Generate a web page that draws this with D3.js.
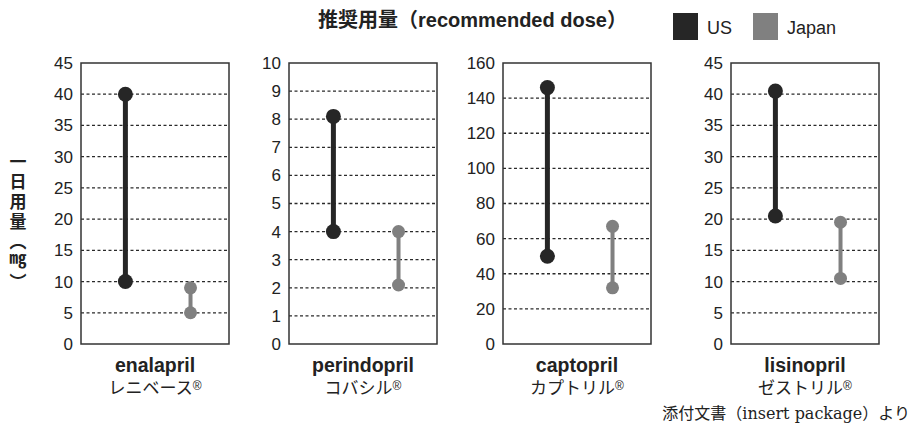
<!DOCTYPE html>
<html>
<head>
<meta charset="utf-8">
<script src="https://cdn.jsdelivr.net/npm/d3@7"></script>
<style>
  body { margin: 0; background: #fff; }
  svg { display: block; }
</style>
</head>
<body>
<div id="chart"></div>
<script>
// data
const drugs = ["enalapril", "perindopril", "captopril", "lisinopril"];
const brands = ["レニベース", "コバシル", "カプトリル", "ゼストリル"];
const series = ["US", "Japan"];
const yMax = [45, 10, 160, 45];
const tickStep = [5, 1, 20, 5];
const usLow = [10, 4, 50, 20.5];
const usHigh = [40, 8.1, 146, 40.5];
const jpLow = [5, 2.1, 32, 10.5];
const jpHigh = [9, 4, 67, 19.5];

// layout
const width = 916, height = 435;
const panelLeft = [81, 289, 503, 731];
const panelW = 148;
const plotTop = 63, plotBottom = 344;
const colors = { US: "#262626", Japan: "#808080" };
const sansFont = "'Liberation Sans', Arial, sans-serif";
const jpFont = "'Noto Sans CJK JP', sans-serif";

const svg = d3.select('#chart')
  .append('svg')
  .attr('width', width)
  .attr('height', height);

// title
svg.append('text')
  .attr('x', 318).attr('y', 27)
  .attr('font-family', sansFont + ", 'Noto Sans CJK JP'")
  .attr('font-weight', 'bold')
  .attr('font-size', 20)
  .attr('fill', '#222')
  .text('推奨用量（recommended dose）');

// legend
const legendX = [673, 753];
series.forEach((s, i) => {
  svg.append('rect')
    .attr('x', legendX[i]).attr('y', 13)
    .attr('width', 25).attr('height', 27)
    .attr('fill', colors[s]);
  svg.append('text')
    .attr('x', legendX[i] + 34).attr('y', 34)
    .attr('font-family', sansFont)
    .attr('font-size', 18)
    .attr('fill', '#222')
    .text(s);
});

// y-axis label, vertical
svg.append('text')
  .attr('x', 18).attr('y', 153)
  .attr('font-family', jpFont)
  .attr('font-weight', 'bold')
  .attr('font-size', 17)
  .attr('fill', '#222')
  .style('writing-mode', 'vertical-rl')
  .style('letter-spacing', '3px')
  .text('一日用量（㎎）');

drugs.forEach((drug, i) => {
  const g = svg.append('g')
    .attr('transform', `translate(${panelLeft[i]},0)`);

  const y = d3.scaleLinear()
    .domain([0, yMax[i]])
    .range([plotBottom, plotTop]);

  const x = d3.scalePoint()
    .domain(series)
    .range([panelW * 0.3, panelW * 0.74]);

  const ticks = d3.range(0, yMax[i] + tickStep[i] / 2, tickStep[i]);

  // dashed grid
  g.selectAll('.grid')
    .data(ticks.filter(t => t > 0 && t < yMax[i]))
    .enter().append('line')
    .attr('class', 'grid')
    .attr('x1', 0).attr('x2', panelW)
    .attr('y1', d => y(d)).attr('y2', d => y(d))
    .attr('stroke', '#2a2a2a')
    .attr('stroke-width', 1.3)
    .attr('stroke-dasharray', '3,2.5');

  // axis labels
  const axis = d3.axisLeft(y)
    .tickValues(ticks)
    .tickSize(0)
    .tickPadding(8);
  const ax = g.append('g').call(axis);
  ax.select('.domain').remove();
  ax.selectAll('text')
    .attr('font-family', sansFont)
    .attr('font-size', 17)
    .attr('fill', '#222');

  // frame
  g.append('rect')
    .attr('x', 0).attr('y', plotTop)
    .attr('width', panelW).attr('height', plotBottom - plotTop)
    .attr('fill', 'none')
    .attr('stroke', '#333')
    .attr('stroke-width', 1.5);

  // ranges
  const ranges = [
    { s: 'US', lo: usLow[i], hi: usHigh[i], w: 5, r: 7.5 },
    { s: 'Japan', lo: jpLow[i], hi: jpHigh[i], w: 4, r: 6.5 }
  ];
  ranges.forEach(d => {
    g.append('line')
      .attr('x1', x(d.s)).attr('x2', x(d.s))
      .attr('y1', y(d.lo)).attr('y2', y(d.hi))
      .attr('stroke', colors[d.s])
      .attr('stroke-width', d.w);
    g.selectAll('.dot-' + d.s)
      .data([d.lo, d.hi])
      .enter().append('circle')
      .attr('cx', x(d.s))
      .attr('cy', v => y(v))
      .attr('r', d.r)
      .attr('fill', colors[d.s]);
  });

  // drug names
  g.append('text')
    .attr('x', panelW / 2).attr('y', 372)
    .attr('text-anchor', 'middle')
    .attr('font-family', sansFont)
    .attr('font-weight', 'bold')
    .attr('font-size', 19.5)
    .attr('fill', '#222')
    .text(drug);

  const brand = g.append('text')
    .attr('x', panelW / 2).attr('y', 394)
    .attr('text-anchor', 'middle')
    .attr('font-family', jpFont)
    .attr('font-size', 17)
    .attr('fill', '#222')
    .text(brands[i]);
  brand.append('tspan')
    .attr('font-family', sansFont)
    .attr('font-size', 12)
    .attr('dy', -4)
    .text('®');
});

// source note
svg.append('text')
  .attr('x', 910).attr('y', 419)
  .attr('text-anchor', 'end')
  .attr('font-family', "'DejaVu Serif', 'Liberation Serif', 'Noto Sans CJK JP', serif")
  .attr('font-size', 16)
  .attr('fill', '#222')
  .text('添付文書（insert package）より');
</script>
</body>
</html>
